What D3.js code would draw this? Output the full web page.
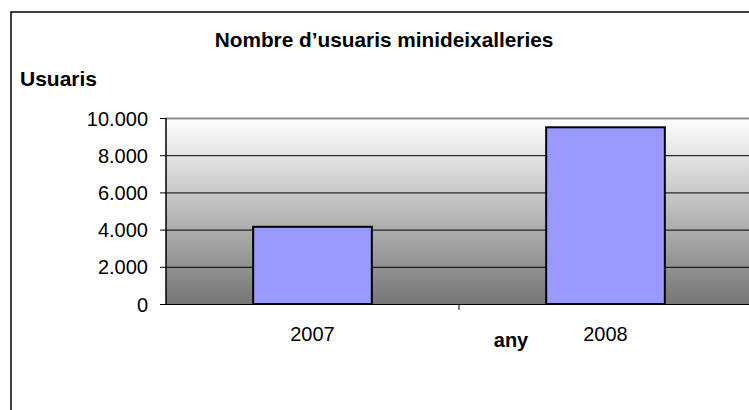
<!DOCTYPE html>
<html>
<head>
<meta charset="utf-8">
<script src="https://cdn.jsdelivr.net/npm/d3@7"></script>
<style>
  body { margin: 0; background: #fff; }
  text { font-family: "Liberation Sans", Arial, sans-serif; fill: #000; }
</style>
</head>
<body>
<div id="chart"></div>
<script>
// chart data
var years = ["2007", "2008"];
var usuaris = [4150, 9500];
var yTicks = [0, 2000, 4000, 6000, 8000, 10000];

var svgWidth = 749, svgHeight = 410;
var plot = { left: 166, top: 118, right: 752, bottom: 304 };

var svg = d3.select("#chart").append("svg")
  .attr("width", svgWidth)
  .attr("height", svgHeight);

// gradient background of the plot area
var defs = svg.append("defs");
var grad = defs.append("linearGradient")
  .attr("id", "bg")
  .attr("x1", 0).attr("y1", 0).attr("x2", 0).attr("y2", 1);
grad.append("stop").attr("offset", "0%").attr("stop-color", "#ffffff");
grad.append("stop").attr("offset", "100%").attr("stop-color", "#767676");

// outer frame
svg.append("rect")
  .attr("x", 11).attr("y", 12)
  .attr("width", 800).attr("height", 500)
  .attr("fill", "none")
  .attr("stroke", "#000")
  .attr("stroke-width", 1.5);

var x = d3.scaleBand()
  .domain(years)
  .range([plot.left, plot.right])
  .paddingInner(0.595)
  .paddingOuter(0.2975);

var y = d3.scaleLinear()
  .domain([0, 10000])
  .range([plot.bottom, plot.top]);

svg.append("rect")
  .attr("x", plot.left).attr("y", plot.top)
  .attr("width", plot.right - plot.left)
  .attr("height", plot.bottom - plot.top)
  .attr("fill", "url(#bg)");

// gridlines
svg.append("g")
  .selectAll("line")
  .data(yTicks.filter(d => d > 0 && d < 10000))
  .enter()
  .append("line")
  .attr("x1", plot.left).attr("x2", plot.right)
  .attr("y1", d => y(d) + 0.5).attr("y2", d => y(d) + 0.5)
  .attr("stroke", "#000")
  .attr("stroke-width", 1);

// top border of plot
svg.append("line")
  .attr("x1", plot.left).attr("x2", plot.right)
  .attr("y1", y(10000) + 0.5).attr("y2", y(10000) + 0.5)
  .attr("stroke", "#8c8c8c")
  .attr("stroke-width", 2);

// bars
svg.append("g")
  .selectAll("rect")
  .data(usuaris)
  .enter()
  .append("rect")
  .attr("x", (d, i) => x(years[i]))
  .attr("y", d => y(d))
  .attr("width", x.bandwidth())
  .attr("height", d => plot.bottom - y(d))
  .attr("fill", "#9999ff")
  .attr("stroke", "#000")
  .attr("stroke-width", 2);

// y axis
var yAxis = d3.axisLeft(y)
  .tickValues(yTicks)
  .tickSize(6)
  .tickPadding(12)
  .tickFormat(d => d3.format(",")(d).replace(/,/g, "."));

var gy = svg.append("g")
  .attr("transform", `translate(${plot.left},0)`)
  .call(yAxis);
gy.select(".domain").attr("stroke", "#000").attr("stroke-width", 1.5)
  .attr("d", `M0,${plot.top}V${plot.bottom}`);
gy.selectAll("text")
  .style("font-family", "Liberation Sans, Arial, sans-serif")
  .style("font-size", "20px")
  .attr("dy", "0.35em");

// x axis
var xAxis = d3.axisBottom(x).tickSize(0).tickPadding(23);
var gx = svg.append("g")
  .attr("transform", `translate(0,${plot.bottom})`)
  .call(xAxis);
gx.select(".domain").attr("stroke", "#000").attr("stroke-width", 1)
  .attr("d", `M${plot.left},0.5H${plot.right}`);
gx.selectAll("text")
  .style("font-family", "Liberation Sans, Arial, sans-serif")
  .style("font-size", "20px");

// category separator ticks
gx.selectAll(".sep")
  .data(years.slice(1))
  .enter()
  .append("line")
  .attr("class", "sep")
  .attr("x1", d => x(d) - x.step() * x.paddingInner() / 2)
  .attr("x2", d => x(d) - x.step() * x.paddingInner() / 2)
  .attr("y1", 0).attr("y2", 6)
  .attr("stroke", "#000");

// titles
svg.append("text")
  .attr("x", 384).attr("y", 47)
  .attr("text-anchor", "middle")
  .style("font-size", "20.8px")
  .style("font-weight", "bold")
  .text("Nombre d\u2019usuaris minideixalleries");

svg.append("text")
  .attr("x", 20).attr("y", 86)
  .style("font-size", "21px")
  .style("font-weight", "bold")
  .text("Usuaris");

svg.append("text")
  .attr("x", 511).attr("y", 347)
  .attr("text-anchor", "middle")
  .style("font-size", "20px")
  .style("font-weight", "bold")
  .text("any");
</script>
</body>
</html>
